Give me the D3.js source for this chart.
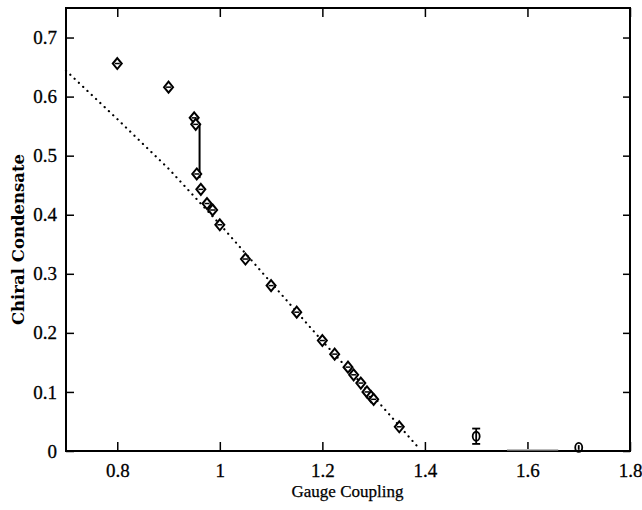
<!DOCTYPE html>
<html>
  <head>
    <meta charset="utf-8">
    <script src="https://d3js.org/d3.v7.min.js"></script>
    <style>
      body { margin: 0px; background: #fff; }
    </style>
  </head>
  <body>
    <svg width="642" height="510"></svg>
    <script>
      // measured points (gauge coupling, condensate)
      const coupling = [0.8, 0.9, 0.95, 0.953, 0.955, 0.963, 0.975, 0.986, 1.0, 1.05, 1.1, 1.15,
                        1.2, 1.224, 1.25, 1.261, 1.275, 1.287, 1.295, 1.3, 1.35];
      const condensate = [0.656, 0.616, 0.564, 0.553, 0.469, 0.443, 0.419, 0.408, 0.383, 0.325, 0.28, 0.235,
                          0.187, 0.164, 0.142, 0.129, 0.115, 0.1, 0.092, 0.0875, 0.041];
      // points drawn with error bars
      const errX = [1.5, 1.7];
      const errY = [0.025, 0.006];
      const errSize = [0.013, 0.004];
      // jump at the transition
      const jumpX = [0.9605, 0.9605];
      const jumpY = [0.552, 0.462];
      // dotted fit line
      const fitX = [0.7, 0.8, 0.9, 1.0, 1.1, 1.2, 1.3, 1.385];
      const fitY = [0.644, 0.562, 0.478, 0.384, 0.285, 0.186, 0.092, 0.008];
      // faint segment on the baseline
      const faintX = [1.56, 1.66];
      const faintY = [0.002, 0.002];

      const xTicks = [0.8, 1.0, 1.2, 1.4, 1.6, 1.8];
      const yTicks = [0, 0.1, 0.2, 0.3, 0.4, 0.5, 0.6, 0.7];

      const margin = { left: 66, right: 12, top: 8, bottom: 59 };
      const svg = d3.select('svg');
      const width = +svg.attr('width');
      const height = +svg.attr('height');
      const innerWidth = width - margin.left - margin.right;
      const innerHeight = height - margin.top - margin.bottom;

      const g = svg.append('g')
          .attr('transform', `translate(${margin.left},${margin.top})`);

      const xScale = d3.scaleLinear().domain([0.7, 1.8]).range([0, innerWidth]);
      const yScale = d3.scaleLinear().domain([0, 0.75]).range([innerHeight, 0]);

      const fmt = d => d3.format('~g')(d);
      const styleAxis = a => {
        a.select('.domain').remove();
        a.selectAll('.tick line').attr('stroke', '#000').attr('stroke-width', 1.5);
        a.selectAll('.tick text')
          .style('font-family', "'Liberation Serif', serif")
          .style('font-size', '19px')
          .style('fill', '#000')
          .style('stroke', '#000')
          .style('stroke-width', 0.3);
      };

      g.append('g')
          .attr('transform', `translate(0,${innerHeight})`)
          .call(d3.axisBottom(xScale).tickValues(xTicks).tickFormat(fmt).tickSize(-9).tickPadding(13))
          .call(styleAxis);
      g.append('g')
          .call(d3.axisTop(xScale).tickValues(xTicks).tickFormat('').tickSize(-9))
          .call(styleAxis);
      g.append('g')
          .call(d3.axisLeft(yScale).tickValues(yTicks).tickFormat(fmt).tickSize(-8).tickPadding(9))
          .call(styleAxis);
      g.append('g')
          .attr('transform', `translate(${innerWidth},0)`)
          .call(d3.axisRight(yScale).tickValues(yTicks).tickFormat('').tickSize(-7))
          .call(styleAxis);

      g.append('rect')
          .attr('width', innerWidth)
          .attr('height', innerHeight)
          .attr('fill', 'none')
          .attr('stroke', '#000')
          .attr('stroke-width', 2);

      const line = d3.line().x(d => xScale(d[0])).y(d => yScale(d[1]));

      g.append('path')
          .datum(fitX.map((x, i) => [x, fitY[i]]))
          .attr('d', line)
          .attr('fill', 'none')
          .attr('stroke', '#000')
          .attr('stroke-width', 2.2)
          .attr('stroke-linecap', 'round')
          .attr('stroke-dasharray', '0.1 5.8');

      g.append('path')
          .datum(faintX.map((x, i) => [x, faintY[i]]))
          .attr('d', line)
          .attr('stroke', '#bbb')
          .attr('stroke-width', 1.5);

      g.append('path')
          .datum(jumpX.map((x, i) => [x, jumpY[i]]))
          .attr('d', line)
          .attr('stroke', '#000')
          .attr('stroke-width', 2);

      const pts = coupling.map((x, i) => ({ x, y: condensate[i] }));
      const mk = g.selectAll('.pt').data(pts).enter().append('g')
          .attr('class', 'pt')
          .attr('transform', d => `translate(${xScale(d.x)},${yScale(d.y)})`);
      mk.append('path')
          .attr('d', 'M0,-5.5L4.5,0L0,5.5L-4.5,0Z')
          .attr('fill', '#fff')
          .attr('stroke', '#000')
          .attr('stroke-width', 2);
      mk.append('line')
          .attr('x1', -2.5).attr('x2', 2.5)
          .attr('stroke', '#000').attr('stroke-width', 1.5);

      const eb = errX.map((x, i) => ({ x, y: errY[i], e: errSize[i] }));
      const eg = g.selectAll('.eb').data(eb).enter().append('g').attr('class', 'eb');
      eg.append('line')
          .attr('x1', d => xScale(d.x)).attr('x2', d => xScale(d.x))
          .attr('y1', d => yScale(d.y - d.e)).attr('y2', d => yScale(d.y + d.e))
          .attr('stroke', '#000').attr('stroke-width', 1.8);
      eg.filter(d => d.e > 0.008).selectAll('.cap')
          .data(d => [d.y - d.e, d.y + d.e].map(v => ({ x: d.x, v })))
          .enter().append('line')
          .attr('x1', d => xScale(d.x) - 4).attr('x2', d => xScale(d.x) + 4)
          .attr('y1', d => yScale(d.v)).attr('y2', d => yScale(d.v))
          .attr('stroke', '#000').attr('stroke-width', 1.8);
      eg.append('ellipse')
          .attr('cx', d => xScale(d.x)).attr('cy', d => yScale(d.y))
          .attr('rx', 3.5).attr('ry', 4.5)
          .attr('fill', 'none')
          .attr('stroke', '#000').attr('stroke-width', 1.8);

      svg.append('text')
          .attr('x', margin.left + xScale(1.25) - 0.5)
          .attr('y', 497)
          .attr('text-anchor', 'middle')
          .style('font-family', "'Liberation Serif', serif")
          .style('font-size', '17px')
          .style('stroke', '#000')
          .style('stroke-width', 0.25)
          .text('Gauge Coupling');

      svg.append('text')
          .attr('transform', `translate(24,${margin.top + innerHeight / 2 + 10}) rotate(-90)`)
          .attr('text-anchor', 'middle')
          .style('font-family', "'DejaVu Serif', serif")
          .style('font-size', '16.5px')
          .style('font-weight', 'bold')
          .text('Chiral Condensate');
    </script>
  </body>
</html>
